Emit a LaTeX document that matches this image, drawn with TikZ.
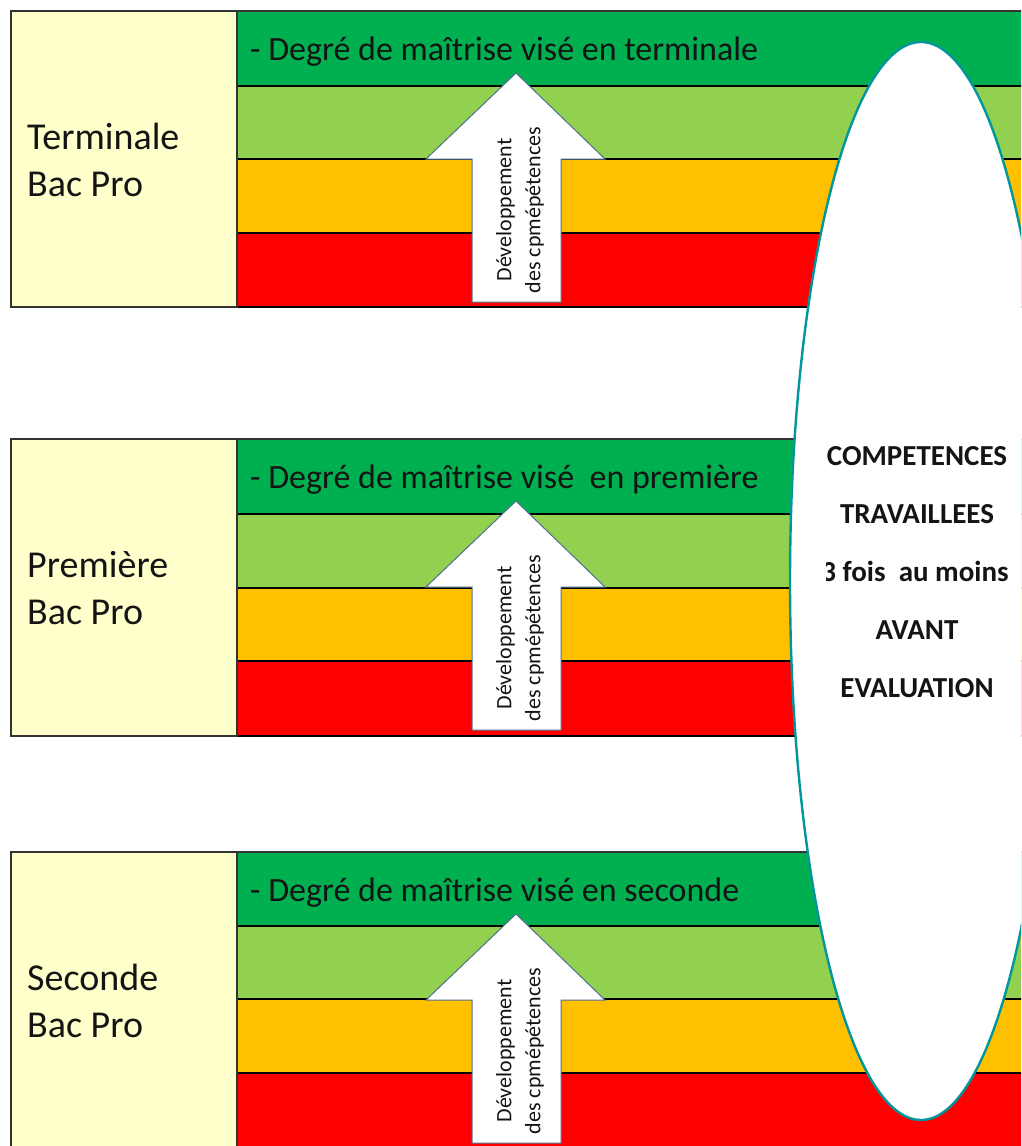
\documentclass[tikz,border=0pt]{standalone}
\usepackage{fontspec}
\setmainfont{Carlito}
\usetikzlibrary{shapes.geometric}
\definecolor{dkgreen}{RGB}{0,176,80}
\definecolor{ltgreen}{RGB}{146,208,80}
\definecolor{amber}{RGB}{255,192,0}
\definecolor{redband}{RGB}{255,0,0}
\definecolor{paleyellow}{RGB}{255,255,204}
\definecolor{tealline}{RGB}{0,150,155}
\definecolor{arrowline}{RGB}{80,110,140}
\definecolor{textdark}{RGB}{20,20,20}
\tikzset{
  bandline/.style={draw=black, line width=1.4pt},
  leftbox/.style={fill=paleyellow, draw=black!80, line width=1.2pt},
  levellabel/.style={anchor=base west, inner sep=0pt, text=textdark, font=\fontsize{38}{46}\selectfont},
  headertext/.style={anchor=base west, inner sep=0pt, text=textdark, font=\fontsize{34}{40}\selectfont},
  uparrow/.style={fill=white, draw=arrowline, line width=1pt, line join=miter},
  arrowtext/.style={rotate=90, align=center, inner sep=0pt, text=textdark, font=\fontsize{22}{29}\selectfont},
  ovaltext/.style={anchor=base, inner sep=0pt, text=textdark, font=\bfseries\fontsize{29}{34}\selectfont}
}
% #1 id, #2..#6 band y values, #7 first label line, #8 header text
\newcommand{\levelblock}[8]{%
  \fill[dkgreen] (237,#2) rectangle (1030,#3);
  \fill[ltgreen] (237,#3) rectangle (1030,#4);
  \fill[amber] (237,#4) rectangle (1030,#5);
  \fill[redband] (237,#5) rectangle (1030,#6);
  \draw[bandline] (237,#3) -- (1030,#3);
  \draw[bandline] (237,#4) -- (1030,#4);
  \draw[bandline] (237,#5) -- (1030,#5);
  \draw[bandline] (237,#6) -- (1030,#6);
  \draw[draw=black!80, line width=1.2pt] (237,#2) -- (1030,#2);
  \draw[leftbox] (11,#2) rectangle (237,#6);
  \node[levellabel] (lab#1a) at (27,{#2+138}) {#7};
  \node[levellabel] (lab#1b) at (27,{#2+185}) {Bac Pro};
  \node[headertext] (hdr#1) at (250,{#2+49}) {#8};
  \draw[uparrow] (472,{#2+291}) -- (472,{#2+148}) -- (426,{#2+148}) -- (516,{#2+62})
     -- (605,{#2+148}) -- (561,{#2+148}) -- (561,{#2+291}) -- cycle;
  \node[arrowtext] (arr#1) at (520,{#2+199}) {Développement\\des cpmépétences};
}
\begin{document}
\begin{tikzpicture}[x=1pt,y=-1pt]
\useasboundingbox (0,0) rectangle (1021,1146);
\clip (0,0) rectangle (1021,1146);
\fill[white] (0,0) rectangle (1021,1146);
\levelblock{t}{11}{86}{159}{233}{307}{Terminale}{- Degré de maîtrise visé en terminale}
\levelblock{p}{439}{514}{588}{661}{736}{Première}{- Degré de maîtrise visé\ \ en première}
\levelblock{s}{852}{926}{999}{1073}{1148}{Seconde}{- Degré de maîtrise visé en seconde}
\node[ellipse, draw=tealline, line width=2.4pt, fill=white, inner sep=0pt,
      minimum width=262pt, minimum height=1078pt] (oval) at (921,581) {};
\begin{scope}
\clip (826,420) rectangle (1013,720);
\node[ovaltext] (o1) at (917,465) {COMPETENCES};
\node[ovaltext] (o2) at (917,523) {TRAVAILLEES};
\node[ovaltext] (o3) at (915,581) {3 fois\ \ au moins};
\node[ovaltext] (o4) at (917,639) {AVANT};
\node[ovaltext] (o5) at (917,697) {EVALUATION};
\end{scope}
\end{tikzpicture}
\end{document}
